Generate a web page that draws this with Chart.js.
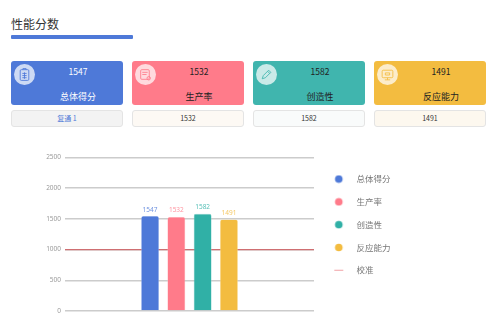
<!DOCTYPE html>
<html lang="zh"><head><meta charset="utf-8">
<script src="https://cdn.jsdelivr.net/npm/chart.js@4"></script>
<style>
html,body{margin:0;padding:0;background:#fff;width:500px;height:315px;overflow:hidden}
body{font-family:"Noto Sans CJK SC","Noto Sans",sans-serif;position:relative;filter:blur(.45px)}
#title{position:absolute;left:11px;top:14px;font-size:12px;line-height:20px;color:#333}
#rule{position:absolute;left:11px;top:35px;width:122px;height:4px;background:#4e79d8;border-radius:1px}
.card{position:absolute;top:61px;width:112px;height:44px;border-radius:3px;box-sizing:border-box}
.circle{position:absolute;left:3px;top:3px;width:21px;height:21px;border-radius:50%;background:rgba(255,255,255,.72);display:flex;align-items:center;justify-content:center}
.val{position:absolute;left:22px;right:0;top:4px;text-align:center;font-size:8.5px;line-height:12px}
.lab{position:absolute;left:22px;right:0;top:29px;text-align:center;font-size:9px;line-height:13px}
.sub{position:absolute;top:110px;width:112px;height:17px;border:1px solid #e4e4e4;border-radius:3px;box-sizing:border-box;text-align:center;font-size:7px;line-height:15px}
#wrap{position:absolute;left:30px;top:145px;width:470px;height:170px}
</style></head><body>
<div id="title">性能分数</div><div id="rule"></div>
<div id="cards"></div>
<div id="wrap"><canvas id="c" width="470" height="170"></canvas></div>
<script>
const categories = ["","性能分数",""];
const seriesNames = ["总体得分","生产率","创造性","反应能力"];
const seriesValues = [1547,1532,1582,1491];
const seriesColors = ["#4e79d8","#ff7b8a","#30b0a6","#f3bc40"];
const cardColors = ["#4e79d8","#ff7b8a","#40b5ae","#f3bc40"];
const labelColors = ["#ffffff","#222222","#222222","#222222"];
const subTexts = ["复通 1","1532","1582","1491"];
const subFills = ["#f3f3f3","#fdf9f4","#f9fbfb","#fdf8ef"];
const subColors = ["#4e79d8","#333333","#333333","#333333"];
const cardLefts = [11,132,253,374];
const calibrationName = "校准";
const calibrationValues = [1000,1000,1000];
const calibrationColor = "#cf6f72";
const calibrationLegendColor = "#f0a0a5";
const yTicks = [0,500,1000,1500,2000,2500];

const icons = [
 '<rect x="3" y="2.5" width="8" height="10" rx="1"/><path d="M5.5 2.5v-1h3v1M5 6h4M5 8h4M5 10h4M7 5v6"/>',
 '<rect x="2.5" y="2.5" width="8" height="9" rx="1"/><path d="M4 5h5M4 7h4"/><circle cx="10" cy="10.5" r="1.6"/>',
 '<path d="M3 11l1-3 5-5 2 2-5 5zM8 4l2 2"/>',
 '<rect x="2" y="3" width="10" height="7" rx="1"/><path d="M7 10v2M4.5 12h5M5 5.5h4v2H5z"/>'
];
const cards = document.getElementById('cards');
seriesNames.forEach((n,i)=>{
  cards.insertAdjacentHTML('beforeend',
   `<div class="card" style="left:${cardLefts[i]}px;background:${cardColors[i]}">
      <div class="circle"><svg width="15" height="15" viewBox="0 0 14 14" fill="none" stroke="${cardColors[i]}" stroke-width=".8">${icons[i]}</svg></div>
      <div class="val" style="color:${labelColors[i]}">${seriesValues[i]}</div>
      <div class="lab" style="color:${labelColors[i]}">${n}</div>
    </div>
    <div class="sub" style="left:${cardLefts[i]}px;background:${subFills[i]};color:${subColors[i]}">${subTexts[i]}</div>`);
});

function lighten(hex,k){
  const n=parseInt(hex.slice(1),16);
  const m=v=>Math.round(v+(255-v)*k);
  return `rgb(${m(n>>16)},${m((n>>8)&255)},${m(n&255)})`;
}
function legendIcon(color,isLine){
  const cv=document.createElement('canvas');cv.width=11;cv.height=9;
  const g=cv.getContext('2d');g.fillStyle=color;
  if(isLine){g.fillRect(1,4,9,1);}else{g.beginPath();g.arc(5.5,4.5,3.8,0,Math.PI*2);g.fill();}
  return cv;
}
const valueLabels = {
  id:'valueLabels',
  afterDatasetsDraw(chart){
    const ctx=chart.ctx;
    ctx.save();
    ctx.font='6.5px "Noto Sans", sans-serif';
    ctx.textAlign='center';ctx.textBaseline='alphabetic';
    seriesValues.forEach((v,i)=>{
      const el=chart.getDatasetMeta(i).data[1];
      ctx.fillStyle=lighten(seriesColors[i],.2);
      ctx.fillText(String(v),el.x,el.y-4.5);
    });
    ctx.restore();
  }
};
const legendPlacement = {
  id:'legendPlacement',
  beforeInit(chart){
    const fit=chart.legend.fit, draw=chart.legend.draw;
    chart.legend.fit=function(){fit.call(this);this.width=186;};
    chart.legend.draw=function(){
      const c=chart.ctx;c.save();c.translate(-3,3);draw.call(this);c.restore();
    };
  }
};
new Chart(document.getElementById('c'),{
  type:'bar',
  data:{
    labels:categories,
    datasets:[
      ...seriesNames.map((n,i)=>({
        label:n,data:[null,seriesValues[i],null],backgroundColor:seriesColors[i],
        borderColor:lighten(seriesColors[i],.4),borderWidth:.6,borderRadius:2,
        categoryPercentage:.845,barPercentage:.68,pointStyle:legendIcon(seriesColors[i],false)
      })),
      {type:'line',label:calibrationName,
       data:calibrationValues,
       borderColor:calibrationColor,backgroundColor:calibrationColor,borderWidth:1.2,pointRadius:0,
       pointStyle:legendIcon(calibrationLegendColor,true)}
    ]
  },
  options:{
    responsive:false,animation:false,
    layout:{padding:{left:0,right:0,top:12.5,bottom:4}},
    scales:{
      x:{display:false,offset:false},
      y:{min:0,max:2500,
         afterBuildTicks(ax){ax.ticks=yTicks.map(v=>({value:v}));},
         afterFit(ax){ax.width=35;},
         border:{display:false},
         grid:{color:'#cccccc',lineWidth:1.4,drawTicks:true,tickLength:4,tickColor:'rgba(0,0,0,0)'},
         ticks:{color:'#9a9a9a',font:{size:6.5,family:'"Noto Sans", sans-serif'},padding:0,callback:v=>String(v)}}
    },
    plugins:{
      tooltip:{enabled:false},
      legend:{position:'right',align:'start',
        labels:{usePointStyle:true,boxHeight:9,pointStyleWidth:27,padding:14.3,color:'#777',
                font:{size:8.5,family:'"Noto Sans CJK SC", sans-serif'}}}
    }
  },
  plugins:[valueLabels,legendPlacement]
});
</script></body></html>
